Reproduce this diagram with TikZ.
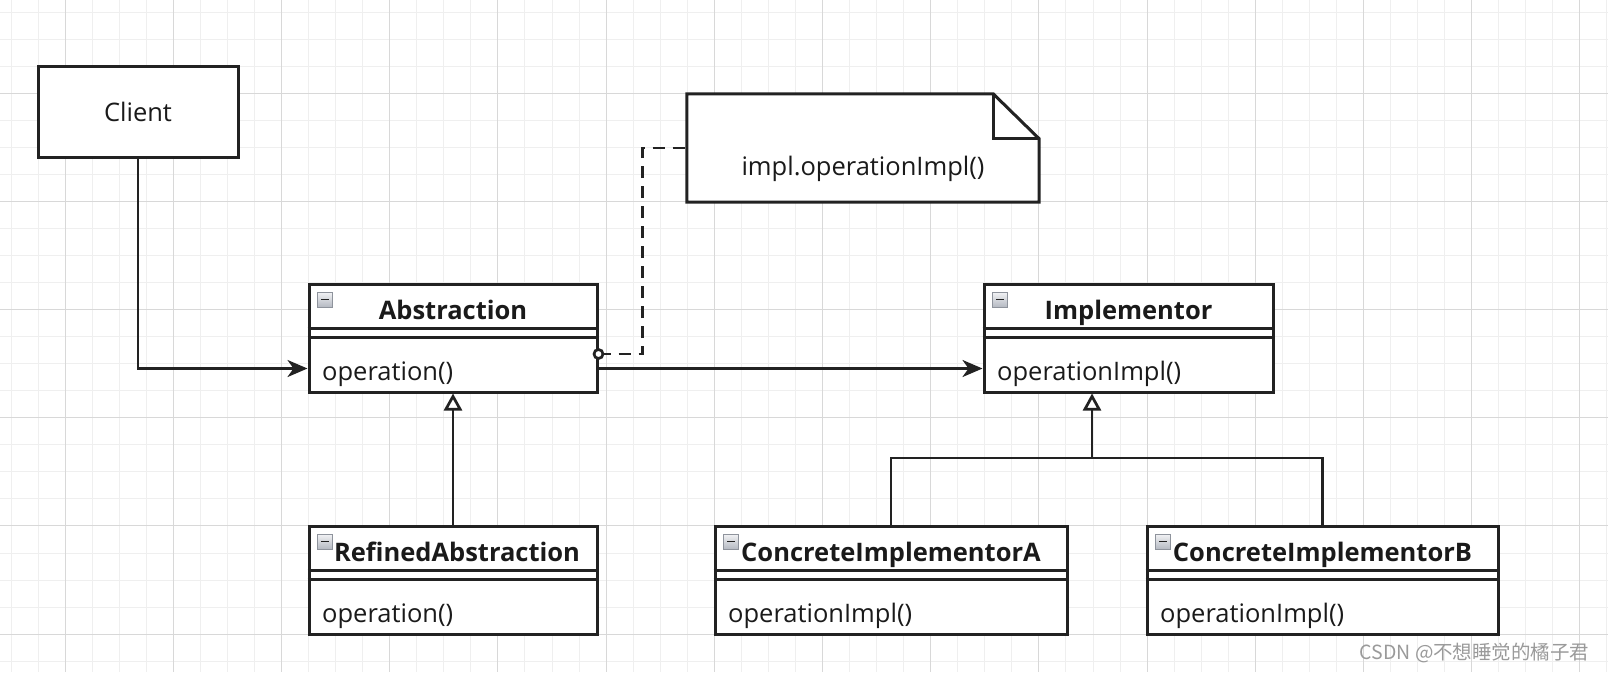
\documentclass[tikz,border=0pt]{standalone}
\usepackage{fontspec}
\setmainfont{Open Sans}
\newfontfamily\cjkfont{Noto Sans CJK SC}
\usetikzlibrary{arrows.meta,calc,positioning}

\definecolor{ink}{HTML}{222222}
\definecolor{txt}{HTML}{1A1A1A}
\definecolor{gridlo}{HTML}{EFEFEF}
\definecolor{gridhi}{HTML}{D8D8D8}
\definecolor{iconedge}{HTML}{8E939C}
\definecolor{icontop}{HTML}{F2F3F5}
\definecolor{iconbot}{HTML}{B5B9C2}
\definecolor{wm}{HTML}{9A9A9A}

\begin{document}
\begin{tikzpicture}[x=1pt,y=-1pt,
        every node/.style={text=txt,font=\fontsize{25.5}{30}\selectfont},
        classbox/.style={draw=ink,line width=3pt,fill=white,minimum height=108pt,inner sep=0pt},
        clsname/.style={anchor=base,font=\fontsize{25.5}{30}\selectfont\bfseries},
        clsop/.style={anchor=base west,inner sep=0pt},
        link/.style={draw=ink,line width=2.7pt},
        assoc/.style={link,-{Stealth[length=20pt,width=17pt,inset=6pt]}},
        inherit/.style={link,-{Triangle[open,length=17pt,width=18pt,fill=white]}},
        notelink/.style={link,dash pattern=on 12pt off 8pt}]
    \useasboundingbox (0,0) rectangle (1608,672);

    % grid
    \fill[white] (0,0) rectangle (1608,672);
    \foreach \i in {0,...,59}
        \draw[gridlo,line width=1pt] (11+27.05*\i,0) -- (11+27.05*\i,672);
    \foreach \j in {0,...,24}
        \draw[gridlo,line width=1pt] (0,12+27.05*\j) -- (1608,12+27.05*\j);
    \foreach \i in {0,...,14}
        \draw[gridhi,line width=1pt] (65.1+108.2*\i,0) -- (65.1+108.2*\i,672);
    \foreach \j in {0,...,5}
        \draw[gridhi,line width=1pt] (0,93.15+108.2*\j) -- (1608,93.15+108.2*\j);

    % client and note
    \node[draw=ink,line width=3pt,fill=white,minimum width=200pt,minimum height=91pt,inner sep=0pt]
        (client) at (138,111.5) {Client};
    \node[minimum width=352pt,minimum height=108pt] (note) at (863,148) {};
    \draw[ink,line width=3pt,fill=white] (note.north west) -- ([xshift=-46pt]note.north east)
        -- ([yshift=-45pt]note.north east) -- (note.south east) -- (note.south west) -- cycle;
    \draw[ink,line width=3pt] ([xshift=-46pt]note.north east) |- ([yshift=-45pt]note.north east);
    \node at ([yshift=-21pt]note.center) {impl.operationImpl()};

    % classes
    \node[classbox,minimum width=288pt] (abs) at (453,338) {};
    \node[clsname] at ([yshift=-36.5pt]abs.north) {Abstraction};
    \node[clsop] (absop) at ([xshift=14.5pt,yshift=13pt]abs.south west) {operation()};

    \node[classbox,minimum width=289pt] (impl) at (1128.5,338) {};
    \node[clsname] at ([yshift=-36.5pt]impl.north) {Implementor};
    \node[clsop] (implop) at ([xshift=14.5pt,yshift=13pt]impl.south west) {operationImpl()};

    \node[classbox,minimum width=288pt] (ref) at (453,580) {};
    \node[clsname] at ([xshift=4pt,yshift=-36.5pt]ref.north) {RefinedAbstraction};
    \node[clsop] (refop) at ([xshift=14.5pt,yshift=13pt]ref.south west) {operation()};

    \node[classbox,minimum width=352pt] (cia) at (891,580) {};
    \node[clsname] at ([yshift=-36.5pt]cia.north) {ConcreteImplementorA};
    \node[clsop] (ciaop) at ([xshift=14.5pt,yshift=13pt]cia.south west) {operationImpl()};

    \node[classbox,minimum width=351pt] (cib) at (1322.5,580) {};
    \node[clsname] at ([yshift=-36.5pt]cib.north) {ConcreteImplementorB};
    \node[clsop] (cibop) at ([xshift=14.5pt,yshift=13pt]cib.south west) {operationImpl()};

    \foreach \c in {abs,impl,ref,cia,cib} {
        \draw[ink,line width=3pt] ([yshift=-46pt]\c.north west) -- ([yshift=-46pt]\c.north east);
        \draw[ink,line width=3pt] ([yshift=-55pt]\c.north west) -- ([yshift=-55pt]\c.north east);
        \shade[top color=icontop,bottom color=iconbot,draw=iconedge,line width=1pt]
            ([xshift=10pt,yshift=-9.5pt]\c.north west) rectangle ++(15,15);
        \draw[ink,line width=1.8pt] ([xshift=13.5pt,yshift=-17pt]\c.north west) -- ++(8,0);
    }

    % connectors
    \coordinate (absmid) at ([yshift=25pt]abs.south);
    \draw[assoc] (client.south) |- (absmid -| abs.west);
    \draw[assoc] (absmid -| abs.east) -- (absmid -| impl.west);

    \coordinate (absnote) at ([yshift=-71.5pt]abs.north east);
    \draw[notelink] (absnote) -- ++(44,0) |- (note.west);
    \draw[link,fill=white] (absnote) circle (4.5pt);

    \draw[inherit] (ref.north) -- (abs.south);
    \coordinate (fork) at (1092,458);
    \draw[link] (cia.north) |- (fork) -| (cib.north);
    \draw[inherit] (fork) -- (fork |- impl.south);

    \node[anchor=east,text=wm,font=\cjkfont\fontsize{19.5}{22}\selectfont] (mark) at (1593,653)
        {CSDN @不想睡觉的橘子君};
\end{tikzpicture}
\end{document}
